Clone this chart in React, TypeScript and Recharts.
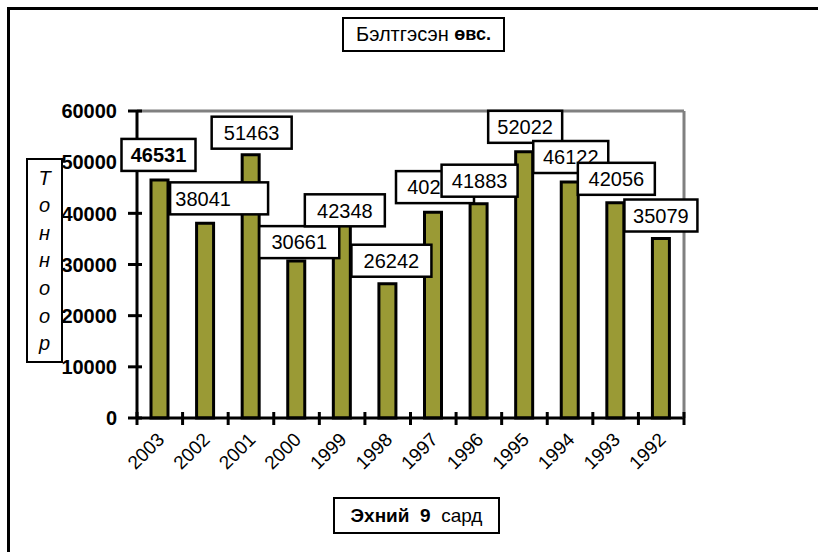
import { BarChart, Bar, XAxis, YAxis, LabelList, ReferenceLine } from 'recharts';

const years = ['2003', '2002', '2001', '2000', '1999', '1998', '1997', '1996', '1995', '1994', '1993', '1992'];
const harvest = [46531, 38041, 51463, 30661, 42348, 26242, 40235, 41883, 52022, 46122, 42056, 35079];
const yTicks = [0, 10000, 20000, 30000, 40000, 50000, 60000];

const rows = years.map((year, i) => ({ year, value: harvest[i] }));

// where each data label sits relative to the top of its bar (the labels were dragged around by hand)
const labelShift = [
  [-1, -25], [14, -25], [1, -22], [3, -19], [3, 9], [4, -23],
  [2, -25], [1, -23], [1, -25], [1, -25], [1, -24], [0, -23],
];
const labelWidth = [74, 98, 80, 80, 80, 80, 78, 76, 74, 75, 77, 73];
const labelTextShift = [0, -16, 0, 0, 0, 0, 0, 0, 0, 0, 0, 0];

const W = 818;
const H = 552;
const M = { top: 111, right: 133, bottom: 74, left: 37 };
const Y_W = 100;
const RIGHT_W = 1;
const PLOT_W = W - M.left - M.right - Y_W - RIGHT_W;

const font = '"Liberation Sans", Arial, sans-serif';

function YTick(props: any) {
  const x = Number(props.x);
  const y = Number(props.y);
  return (
    <g>
      <path d={`M${x - 9},${y}H${x + 5}`} stroke="#000" strokeWidth={3} fill="none" />
      <text x={x - 20} y={y} dy="0.36em" textAnchor="end" fontFamily={font} fontSize={20} fontWeight="bold" fill="#000">
        {props.payload.value}
      </text>
    </g>
  );
}

// Excel-style category axis: tick marks sit between the categories
function XTick(props: any) {
  const x = Number(props.x);
  const y = Number(props.y);
  const { payload, index } = props;
  const step = PLOT_W / years.length;
  const left = x - step / 2;
  const right = x + step / 2;
  return (
    <g>
      <path d={`M${left},${y - 6}V${y + 7}`} stroke="#000" strokeWidth={3} fill="none" />
      {index === years.length - 1 && <path d={`M${right},${y - 6}V${y + 7}`} stroke="#000" strokeWidth={3} fill="none" />}
      <text
        transform={`translate(${x + 1},${y + 18}) rotate(-45)`}
        textAnchor="end"
        dy="0.35em"
        fontFamily={font}
        fontSize={19}
        fill="#000"
      >
        {payload.value}
      </text>
    </g>
  );
}

function BoxLabel(props: any) {
  const { x, y, width, value, index } = props;
  const [dx, dy] = labelShift[index];
  const w = labelWidth[index];
  const h = 32;
  const cx = x + width / 2 + dx;
  const cy = y + dy;
  return (
    <g>
      <rect x={cx - w / 2} y={cy - h / 2} width={w} height={h} fill="#fff" stroke="#000" strokeWidth={2.5} />
      <text
        x={cx + labelTextShift[index]}
        y={cy}
        dy="0.36em"
        textAnchor="middle"
        fontFamily={font}
        fontSize={20}
        fontWeight={index === 0 ? 'bold' : 'normal'}
        fill="#000"
      >
        {value}
      </text>
    </g>
  );
}

export default function App() {
  return (
    <div style={{ position: 'absolute', left: 0, top: 0, width: W, height: H, background: '#fff' }}>
      <div style={{ position: 'absolute', left: 7, top: 7, right: 0, bottom: 0, borderTop: '3px solid #000', borderLeft: '3px solid #000' }} />
      <div style={{ position: 'absolute', left: 0, top: 0 }}>
        <BarChart width={W} height={H} data={rows} margin={M} barSize={17}>
          <XAxis
            dataKey="year"
            height={60}
            axisLine={{ stroke: '#000', strokeWidth: 3 }}
            tickLine={false}
            tickSize={0}
            tickMargin={0}
            interval={0}
            tick={<XTick />}
          />
          <YAxis
            domain={[0, 60000]}
            ticks={yTicks}
            width={Y_W}
            axisLine={{ stroke: '#000', strokeWidth: 3 }}
            tickLine={false}
            tickSize={0}
            tickMargin={0}
            tick={<YTick />}
          />
          <YAxis
            yAxisId="right"
            orientation="right"
            domain={[0, 60000]}
            width={RIGHT_W}
            tick={false}
            tickLine={false}
            axisLine={{ stroke: '#808080', strokeWidth: 3 }}
          />
          <ReferenceLine y={60000} stroke="#808080" strokeWidth={3} />
          <Bar dataKey="value" fill="#9a9a35" stroke="#000" strokeWidth={3} isAnimationActive={false}>
            <LabelList dataKey="value" content={<BoxLabel />} />
          </Bar>
        </BarChart>
      </div>

      <div
        style={{
          position: 'absolute', left: 342, top: 17, width: 163, height: 35,
          border: '2px solid #000', boxSizing: 'border-box', background: '#fff',
          display: 'flex', alignItems: 'center', justifyContent: 'center',
          fontFamily: '"Liberation Sans Narrow", "Liberation Sans", Arial, sans-serif', fontSize: 20, color: '#000',
        }}
      >
        <span>Бэлтгэсэн&nbsp;</span>
        <span style={{ fontFamily: font, fontWeight: 'bold', fontSize: 18 }}>өвс.</span>
      </div>

      <div
        style={{
          position: 'absolute', left: 333, top: 497, width: 167, height: 37,
          border: '2.5px solid #000', boxSizing: 'border-box', background: '#fff',
          display: 'flex', alignItems: 'center', justifyContent: 'center',
          fontFamily: font, fontSize: 19, color: '#000', whiteSpace: 'pre',
        }}
      >
        <span style={{ fontWeight: 'bold' }}>Эхний  9  </span>
        <span>сард</span>
      </div>

      <div
        style={{
          position: 'absolute', left: 26, top: 158, width: 37, height: 205,
          border: '2.5px solid #000', boxSizing: 'border-box', background: '#fff',
          display: 'flex', flexDirection: 'column', alignItems: 'center', justifyContent: 'space-around',
          fontFamily: font, fontSize: 20, fontStyle: 'italic', color: '#000', lineHeight: 1,
          paddingTop: 4, paddingBottom: 4,
        }}
      >
        {['Т', 'о', 'н', 'н', 'о', 'о', 'р'].map((ch, i) => (
          <span key={i}>{ch}</span>
        ))}
      </div>
    </div>
  );
}
